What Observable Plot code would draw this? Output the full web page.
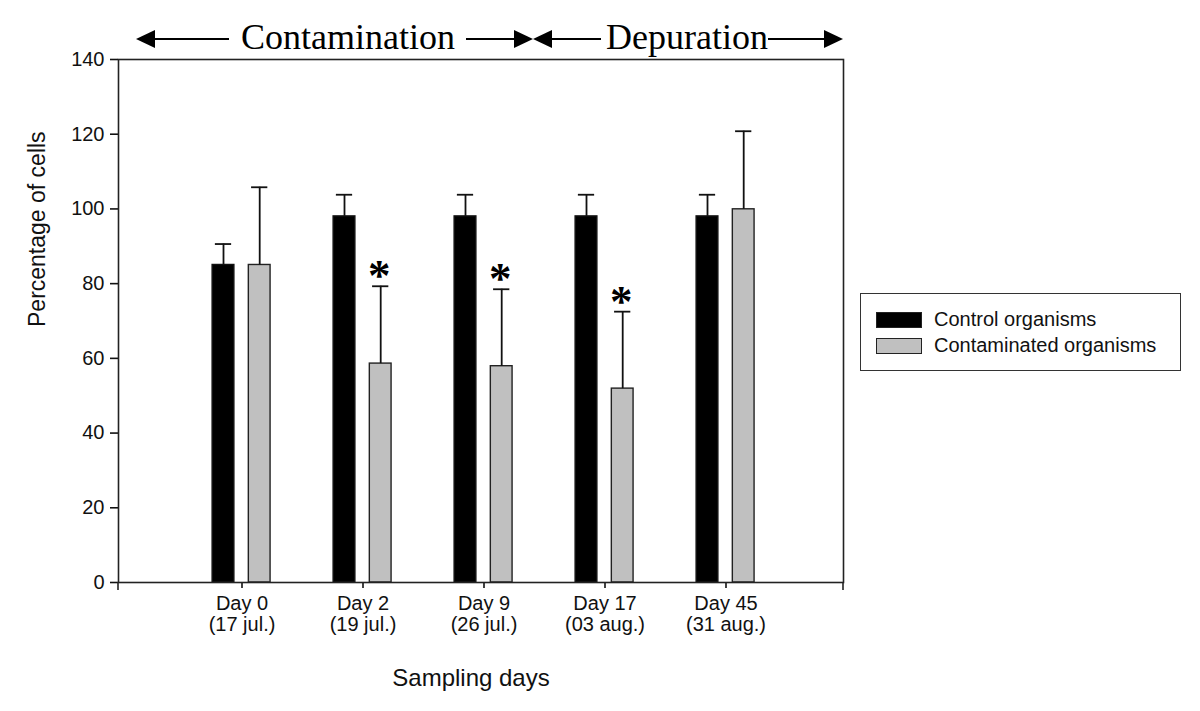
<!DOCTYPE html>
<html>
<head>
<meta charset="utf-8">
<script src="https://cdn.jsdelivr.net/npm/d3@7"></script>
<script src="https://cdn.jsdelivr.net/npm/@observablehq/plot@0.6"></script>
<style>
  html, body { margin: 0; padding: 0; background: #fff; }
  #wrap { position: relative; width: 1200px; height: 711px; font-family: "Liberation Sans", Arial, sans-serif; }
  #legend { position: absolute; left: 860px; top: 293px; width: 321px; height: 78px; box-sizing: border-box; border: 1.5px solid #333; background: #fff; }
  .item { position: absolute; left: 15px; height: 17px; display: flex; align-items: center; }
  .sw { width: 46px; height: 16px; box-sizing: border-box; border: 1.5px solid #222; margin-right: 12px; }
  .lab { font-size: 20px; color: #111; white-space: nowrap; line-height: 17px; }
</style>
</head>
<body>
<div id="wrap"></div>
<script>
// ---- data ----
const days = ["Day 0", "Day 2", "Day 9", "Day 17", "Day 45"];
const dates = ["(17 jul.)", "(19 jul.)", "(26 jul.)", "(03 aug.)", "(31 aug.)"];
const seriesNames = ["Control organisms", "Contaminated organisms"];
const control = [85, 98, 98, 98, 98];
const controlErrTop = [90.6, 103.8, 103.8, 103.8, 103.8];
const contaminated = [85, 58.6, 57.9, 51.9, 99.9];
const contaminatedErrTop = [105.8, 79.3, 78.5, 72.5, 120.8];
const significant = [false, true, true, true, false];
const yTicks = [0, 20, 40, 60, 80, 100, 120, 140];

const seriesColors = ["#000000", "#c0c0c0"];

const ctrlRows = days.map((d, i) => ({day: d, value: control[i], top: controlErrTop[i]}));
const contRows = days.map((d, i) => ({day: d, value: contaminated[i], top: contaminatedErrTop[i], sig: significant[i]}));
const dateOf = new Map(days.map((d, i) => [d, dates[i]]));

// ---- layout ----
const W = 1200, H = 711;
const mL = 118, mR = 357, mT = 59, mB = 129;
const pInner = 0.5, pOuter = 0.75;
const xRange = [119, 848];
const step = (xRange[1] - xRange[0]) / (days.length - pInner + 2 * pOuter);
const bw = step * (1 - pInner);
const barW = 21.5;
const offC = -18.5, offK = 17.7;
const capW = 16;

const plot = Plot.plot({
  width: W,
  height: H,
  marginLeft: mL,
  marginRight: mR,
  marginTop: mT,
  marginBottom: mB,
  style: {fontFamily: "'Liberation Sans', Arial, sans-serif", fontSize: "20px", color: "#111", background: "#fff"},
  x: {domain: days, range: xRange, paddingInner: pInner, paddingOuter: pOuter, label: null},
  y: {domain: [0, 140], label: null},
  marks: [
    Plot.axisY({ticks: yTicks, tickSize: 8, tickPadding: 6, fontSize: 20, label: null, strokeWidth: 1.6}),
    Plot.axisX({tickSize: 6, tickPadding: 7, fontSize: 20, label: null, strokeWidth: 1.6, lineHeight: 1.05,
      tickFormat: d => d + "\n" + dateOf.get(d)}),
    // bars
    Plot.barY(ctrlRows, {x: "day", y: "value", fill: seriesColors[0], stroke: "#111", strokeWidth: 1.4,
      insetLeft: bw / 2 + offC - barW / 2, insetRight: bw / 2 - offC - barW / 2}),
    Plot.barY(contRows, {x: "day", y: "value", fill: seriesColors[1], stroke: "#222", strokeWidth: 1.4,
      insetLeft: bw / 2 + offK - barW / 2, insetRight: bw / 2 - offK - barW / 2}),
    // error bars (upper only)
    Plot.ruleX(ctrlRows, {x: "day", y1: "value", y2: "top", dx: offC, stroke: "#111", strokeWidth: 1.8}),
    Plot.tickY(ctrlRows, {x: "day", y: "top", dx: offC, stroke: "#111", strokeWidth: 1.8,
      insetLeft: (bw - capW) / 2, insetRight: (bw - capW) / 2}),
    Plot.ruleX(contRows, {x: "day", y1: "value", y2: "top", dx: offK, stroke: "#111", strokeWidth: 1.8}),
    Plot.tickY(contRows, {x: "day", y: "top", dx: offK, stroke: "#111", strokeWidth: 1.8,
      insetLeft: (bw - capW) / 2, insetRight: (bw - capW) / 2}),
    // significance asterisks
    Plot.text(contRows.filter(d => d.sig), {x: "day", y: "top", dx: offK - 1.5, dy: 4, text: () => "*",
      lineAnchor: "bottom", fontSize: 45, fontWeight: "bold", fontFamily: "'Liberation Serif', 'Times New Roman', serif", fill: "#000"}),
    // frame
    Plot.frame({stroke: "#222", strokeWidth: 1.6}),
    // axis titles
    Plot.text(["Percentage of cells"], {frameAnchor: "left", dx: -81, dy: 6, rotate: -90, fontSize: 23, fill: "#111"}),
    Plot.text(["Sampling days"], {frameAnchor: "bottom", dx: -10, dy: 103, lineAnchor: "bottom", fontSize: 24, fill: "#111"})
  ]
});

const svg = d3.select(plot);
// end ticks at the frame corners on the x axis
[mL, W - mR].forEach(xx => {
  svg.append("line").attr("x1", xx).attr("x2", xx).attr("y1", H - mB).attr("y2", H - mB + 8)
    .attr("stroke", "#222").attr("stroke-width", 1.6);
});

// header: phase annotation with arrows
const hdr = svg.append("g").attr("font-family", "'Liberation Serif', 'Times New Roman', serif")
  .attr("fill", "#000").attr("text-anchor", "start");
const ly = 39;
const seg = (x1, x2) => hdr.append("line").attr("x1", x1).attr("x2", x2).attr("y1", ly).attr("y2", ly).attr("stroke", "#000").attr("stroke-width", 2);
const head = (tip, dir) => hdr.append("path")
  .attr("d", `M${tip},${ly} L${tip - dir * 19},${ly - 9} L${tip - dir * 19},${ly + 9} Z`).attr("fill", "#000");
head(136, -1); seg(150, 229);
hdr.append("text").attr("x", 241).attr("y", 49).attr("font-size", 36).attr("text-anchor", "start").text("Contamination");
seg(466, 520); head(533, 1); head(533, -1); seg(546, 601);
hdr.append("text").attr("x", 606).attr("y", 49).attr("font-size", 36).attr("text-anchor", "start").text("Depuration");
seg(768, 828); head(843, 1);

const wrap = document.getElementById("wrap");
wrap.appendChild(plot);

// legend
const legend = document.createElement("div");
legend.id = "legend";
seriesNames.forEach((name, i) => {
  const it = document.createElement("div");
  it.className = "item";
  it.style.top = (i === 0 ? 17 : 43) + "px";
  const sw = document.createElement("div");
  sw.className = "sw";
  sw.style.background = seriesColors[i];
  const lab = document.createElement("span");
  lab.className = "lab";
  lab.textContent = name;
  it.appendChild(sw); it.appendChild(lab);
  legend.appendChild(it);
});
wrap.appendChild(legend);
</script>
</body>
</html>
